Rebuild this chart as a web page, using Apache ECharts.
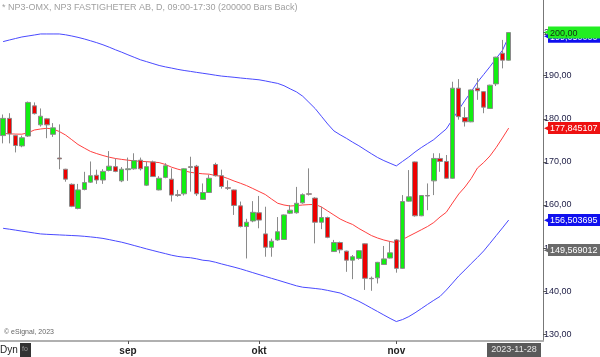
<!DOCTYPE html>
<html><head><meta charset="utf-8">
<script src="https://cdn.jsdelivr.net/npm/echarts@6/dist/echarts.min.js"></script>
<style>html,body{margin:0;padding:0;background:#fff}#c{width:600px;height:357px}</style>
</head><body><div id="c"></div>
<script>
// [open, close, low, high]
const candles = [
[176.1,180.1,174.3,181.0],[180.1,176.5,174.3,181.3],[176.1,173.8,172.2,176.3],[173.7,175.6,173.4,176.1],
[176.0,183.8,175.8,184.0],[183.0,181.2,181.0,183.8],[178.6,180.6,178.2,182.4],[180.0,178.6,175.5,180.2],
[176.4,177.9,175.8,179.0],[170.9,170.7,168.3,178.7],[168.3,166.0,165.4,168.4],[164.8,159.7,159.5,165.0],
[159.2,163.5,159.0,164.9],[163.6,165.2,163.4,167.7],[165.3,166.8,165.1,170.1],[166.9,165.8,164.9,168.2],
[165.8,167.8,164.9,168.3],[168.0,169.0,167.8,172.5],[168.9,167.8,167.6,170.8],[165.6,168.3,165.3,168.8],
[168.2,168.4,165.6,171.0],[168.4,170.3,168.2,172.0],[170.4,168.4,168.0,171.0],[164.6,168.9,164.4,170.1],
[170.0,166.6,166.5,170.3],[163.5,166.2,163.4,166.7],[166.4,169.1,166.2,169.7],[166.0,162.3,160.8,168.5],
[162.4,162.2,161.9,163.5],[162.6,168.4,162.2,168.5],[168.9,168.7,163.1,171.2],[169.0,162.6,162.1,169.3],
[161.3,162.9,161.2,165.0],[162.9,166.2,162.8,167.0],[169.4,166.8,166.6,169.8],[166.8,164.3,163.8,168.2],
[164.0,163.9,163.5,165.7],[163.5,159.9,157.7,163.6],[159.8,155.0,154.8,160.8],[155.0,156.0,147.6,156.8],
[156.3,158.3,156.0,160.9],[158.2,156.5,154.6,162.1],[153.3,150.2,148.0,159.6],[150.2,151.6,148.0,152.2],
[151.9,153.8,151.7,157.2],[152.0,157.7,151.9,157.8],[158.1,158.8,157.9,160.0],[158.2,160.4,158.0,164.2],
[160.5,162.4,160.3,162.7],[162.6,162.5,162.2,168.5],[161.6,156.0,151.1,161.8],[156.0,157.1,154.4,159.6],
[157.1,152.5,152.3,157.3],[149.2,151.3,149.1,151.9],[151.3,149.6,148.8,151.5],[149.3,147.2,144.5,149.4],
[147.2,148.0,142.8,148.4],[147.6,149.4,147.3,149.5],[151.0,143.0,140.3,151.1],[143.0,142.9,140.1,143.4],
[143.1,146.7,141.8,146.8],[146.2,147.5,146.1,150.5],[147.7,148.9,147.6,151.5],[151.9,145.3,144.3,152.1],
[145.3,160.8,145.2,162.3],[160.9,161.9,160.8,168.1],[170.0,157.5,157.3,170.1],[157.5,162.2,157.4,162.3],
[162.2,162.1,158.8,165.0],[165.6,170.8,162.3,172.0],[170.8,170.1,167.7,172.0],[170.1,166.2,166.1,171.6],
[166.2,187.1,166.1,188.6],[187.1,180.5,179.8,189.2],[180.3,179.3,178.2,182.7],[179.3,186.7,179.2,186.8],
[187.1,186.5,184.4,189.4],[186.3,182.7,181.3,186.4],[182.4,187.8,182.3,187.9],[188.1,194.3,187.6,194.4],
[195.2,193.6,191.7,198.3],[193.6,200.0,193.5,200.1]
];
const upperBand = [197.91,198.28,198.63,198.98,199.21,199.44,199.68,199.68,199.68,199.68,199.49,199.21,198.89,198.52,198.10,197.66,197.17,196.61,196.01,195.45,194.85,194.27,193.69,193.25,192.81,192.37,192.04,191.76,191.46,191.21,191.00,190.77,190.56,190.35,190.12,189.91,189.77,189.63,189.47,189.33,189.19,189.05,188.79,188.49,188.21,187.68,186.94,186.24,185.24,183.81,182.37,180.58,178.79,177.19,176.29,175.47,174.57,173.74,172.81,171.90,171.02,170.30,169.68,169.07,170.12,171.14,172.30,173.32,174.25,175.17,176.43,177.64,179.86,182.11,184.27,186.31,188.47,190.28,192.09,194.01,195.87,199.05];
const middleBand = [176.61,176.52,176.45,176.43,176.75,177.40,177.63,177.80,177.63,177.05,176.24,175.15,174.04,173.22,172.43,171.92,171.48,171.09,170.79,170.58,170.40,170.23,170.14,170.05,169.95,169.84,169.40,168.77,168.31,167.94,167.59,167.38,167.24,167.15,166.85,166.66,166.15,165.57,165.06,164.50,163.83,163.13,162.44,161.39,160.40,160.00,159.77,159.86,160.00,160.09,160.14,159.54,158.61,157.68,156.75,156.06,155.48,154.55,153.74,152.92,152.34,151.88,151.53,151.25,151.99,152.76,153.50,154.25,155.01,155.94,157.22,158.31,160.46,162.55,164.18,166.15,168.59,169.86,171.37,173.34,175.55,177.845107];
const lowerBand = [154.59,154.39,154.17,153.94,153.73,153.50,153.29,153.20,153.13,153.06,152.99,152.92,152.85,152.74,152.60,152.44,152.25,151.97,151.67,151.37,151.00,150.60,150.21,149.81,149.44,149.07,148.72,148.35,148.07,147.89,147.77,147.52,147.19,147.05,146.73,146.33,145.96,145.59,145.20,144.76,144.31,143.87,143.43,142.99,142.57,142.13,141.69,141.25,140.93,140.79,140.63,140.46,140.19,139.88,139.58,138.96,138.31,137.66,136.89,136.08,135.29,134.48,133.69,132.97,133.43,134.11,134.99,135.96,136.94,137.89,138.79,140.25,141.88,143.53,144.94,146.43,147.84,149.35,151.11,152.90,154.68,156.503695];
const yTicks = [130,140,150,160,170,180,190,200];
const monthNames = ['jan','feb','mar','apr','maj','jun','jul','aug','sep','okt','nov','dec'];
const closeTag = 200.00;
const upperTag = 199.05;
const middleTag = 177.845107;
const lowerTag = 156.503695;
const otherTag = 149.569012;
const totalSlots = 87;

// trading-day categories starting 2023-08-04
const categories = [];
(function(){
  let d = new Date(Date.UTC(2023,7,4));
  while (categories.length < totalSlots) {
    const wd = d.getUTCDay();
    if (wd !== 0 && wd !== 6) categories.push(d.toISOString().slice(0,10));
    d = new Date(d.getTime() + 86400000);
  }
})();
function isMonthStart(i){
  if (i <= 0 || i >= candles.length) return false;
  return categories[i].slice(5,7) !== categories[i-1].slice(5,7);
}
const fmt2 = v => v.toFixed(2).replace('.', ',');
const fmt6 = v => v.toFixed(6).replace('.', ',');

function tagItem(value, text, bg, fg) {
  return {
    yAxis: value,
    lineStyle: { color: 'rgba(0,0,0,0)', width: 1 },
    label: { show: true, position: 'end', distance: 1,
      formatter: '{a|◀}{b|' + text + '}',
      rich: {
        a: { color: bg, fontSize: 14, fontFamily: 'DejaVu Sans', lineHeight: 14, width: 5, padding: [0, -1, 0, 0] },
        b: { backgroundColor: bg, color: fg, fontSize: 9, fontFamily: 'Arial', lineHeight: 11,
             padding: [2, 2, 1, 2], width: 52 }
      } }
  };
}
function tags(items) {
  return { silent: true, symbol: 'none', animation: false, precision: 6,
    lineStyle: { color: 'rgba(0,0,0,0)', width: 1 },
    data: items };
}

const chart = echarts.init(document.getElementById('c'), null, { renderer: 'canvas' });
chart.setOption({
  animation: false,
  backgroundColor: '#ffffff',
  grid: { left: -1.4, right: 57, top: 0, bottom: 16, containLabel: false },
  xAxis: {
    type: 'category', data: categories, boundaryGap: true,
    axisLine: { show: true, lineStyle: { color: '#b0b0b0', width: 2 } },
    axisTick: { show: true, alignWithLabel: true, interval: (i) => isMonthStart(i), length: 3, lineStyle: { color: '#555' } },
    axisLabel: { show: true, interval: (i) => isMonthStart(i), margin: 5,
      formatter: (v) => monthNames[parseInt(v.slice(5,7),10)-1],
      fontSize: 10, fontWeight: 'bold', color: '#222', fontFamily: 'Arial' },
    splitLine: { show: false }
  },
  yAxis: {
    type: 'value', position: 'right', min: 128.45, max: 207.56, scale: true,
    axisLine: { show: true, lineStyle: { color: '#777', width: 1 } },
    axisTick: { show: true, customValues: yTicks, length: 3, lineStyle: { color: '#555' } },
    axisLabel: { show: true, customValues: yTicks, formatter: fmt2, margin: 1,
      fontSize: 9, color: '#1c1c44', fontFamily: 'Arial' },
    splitLine: { show: false }
  },
  series: [
    { name: 'upper', type: 'line', data: upperBand, showSymbol: false, symbol: 'none', silent: true,
      lineStyle: { color: '#4a4aff', width: 1 }, z: 2,
      markLine: tags([tagItem(upperTag, fmt6(upperTag), '#1010ee', '#ffffff')]) },
    { name: 'middle', type: 'line', data: middleBand, showSymbol: false, symbol: 'none', silent: true,
      lineStyle: { color: '#ff4040', width: 1 }, z: 2,
      markLine: tags([tagItem(middleTag, fmt6(middleTag), '#ee1111', '#ffffff')]) },
    { name: 'lower', type: 'line', data: lowerBand, showSymbol: false, symbol: 'none', silent: true,
      lineStyle: { color: '#4a4aff', width: 1 }, z: 2,
      markLine: tags([tagItem(lowerTag, fmt6(lowerTag), '#1010ee', '#ffffff'),
                      tagItem(otherTag, fmt6(otherTag), '#6a6a6a', '#ffffff')]) },
    { name: 'price', type: 'candlestick', data: candles, barWidth: 5, z: 3,
      itemStyle: { color: '#11ee11', color0: '#ee0000', borderColor: '#8a8a8a', borderColor0: '#8a8a8a', borderWidth: 1 },
      markLine: tags([tagItem(closeTag, fmt2(closeTag), '#22ee22', '#103010')]) }
  ],
  graphic: [
    { type: 'text', left: 2, top: 3, style: { text: '* NP3-OMX, NP3 FASTIGHETER AB, D, 09:00-17:30 (200000 Bars Back)', fontSize: 9, fontFamily: 'Arial', fill: '#a0a0a0' } },
    { type: 'text', left: 4, top: 329, style: { text: '© eSignal, 2023', fontSize: 7, fontFamily: 'Arial', fill: '#666' } },
    { type: 'text', left: 0, top: 345, style: { text: 'Dyn', fontSize: 10, fontFamily: 'Arial', fill: '#222' } },
    { type: 'rect', shape: { x: 20, y: 343, width: 11, height: 14 }, style: { fill: '#333' } },
    { type: 'text', left: 22, top: 346, style: { text: 'fo', fontSize: 7, fontFamily: 'Arial', fill: '#999' } },
    { type: 'rect', shape: { x: 487, y: 343, width: 54, height: 14 }, style: { fill: '#5a5a5a' } },
    { type: 'text', x: 514, y: 350, style: { text: '2023-11-28', fontSize: 9, fontFamily: 'Arial', fill: '#e8e8e8', align: 'center', verticalAlign: 'middle' } }
  ]
});
</script></body></html>
